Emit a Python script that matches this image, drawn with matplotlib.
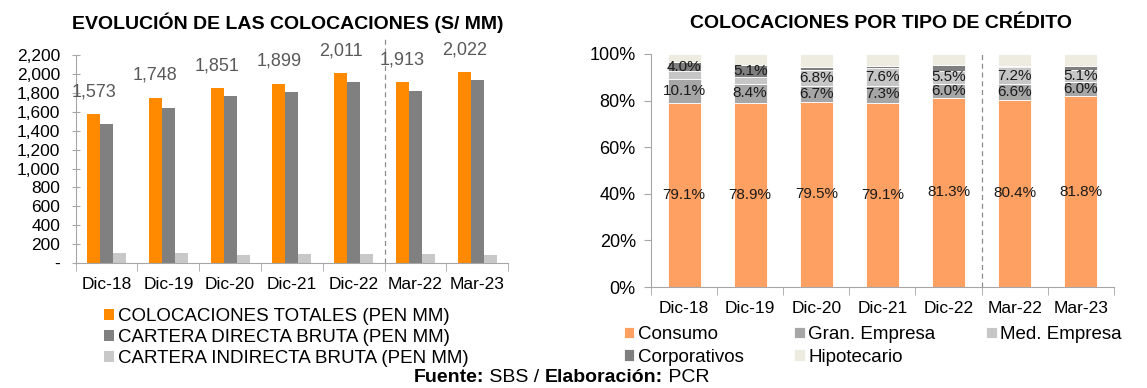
import matplotlib
matplotlib.use("Agg")
import matplotlib.pyplot as plt
import numpy as np

plt.rcParams['font.family'] = ['Liberation Sans', 'DejaVu Sans']

periodos = ['Dic-18', 'Dic-19', 'Dic-20', 'Dic-21', 'Dic-22', 'Mar-22', 'Mar-23']

# left chart (PEN MM)
totales = [1573, 1748, 1851, 1899, 2011, 1913, 2022]
directa = [1470, 1645, 1770, 1805, 1915, 1815, 1935]
indirecta = [103, 103, 81, 94, 96, 98, 87]

# right chart (% share)
consumo = [79.1, 78.9, 79.5, 79.1, 81.3, 80.4, 81.8]
gran_emp = [10.1, 8.4, 6.7, 7.3, 6.0, 6.6, 6.0]
med_emp = [3.4, 3.0, 6.8, 7.6, 5.5, 7.2, 5.1]
corporativos = [4.0, 5.1, 1.5, 1.0, 2.5, 0.8, 2.0]
hipotecario = [3.4, 4.6, 5.5, 5.0, 4.7, 5.0, 5.1]

c_orange = '#FF8A00'
c_dgray = '#808080'
c_lgray = '#C8C8C8'
spine_c = '#A6A6A6'

fig = plt.figure(figsize=(11.47, 3.88), dpi=100)

# ---------- left chart ----------
ax1 = fig.add_axes([0.066, 0.322, 0.377, 0.536])
x = np.arange(len(periodos))
w = 0.21
b1 = ax1.bar(x - w, totales, w, color=c_orange)
b2 = ax1.bar(x, directa, w, color=c_dgray)
b3 = ax1.bar(x + w, indirecta, w, color=c_lgray)
for xi, v in zip(x, totales):
    ax1.annotate(f'{v:,}', (xi - w, v), xytext=(0, 10), textcoords='offset points',
                 ha='center', va='bottom', fontsize=13, color='#595959')
ax1.set_xlim(-0.5, len(periodos) - 0.5)
ax1.set_ylim(0, 2200)
ax1.set_yticks(range(0, 2201, 200))
ax1.set_yticklabels(['-'] + [f'{v:,}' for v in range(200, 2201, 200)])
ax1.set_xticks(x)
ax1.set_xticklabels(periodos)
ax1.set_xticks(np.arange(-0.5, len(periodos)), minor=True)
ax1.tick_params(axis='x', which='major', length=0, pad=10, labelsize=12.5)
ax1.tick_params(axis='x', which='minor', length=6, color=spine_c)
ax1.tick_params(axis='y', length=6, direction='inout', color=spine_c, labelsize=12.5, pad=8)
for s in ['top', 'right']:
    ax1.spines[s].set_visible(False)
ax1.spines['left'].set_color(spine_c)
ax1.spines['bottom'].set_color(spine_c)
ax1.axvline(4.5, ymin=0, ymax=1.085, color='#8C8C8C', ls=(0, (4, 3)), lw=0.9, clip_on=False)
ax1.set_title('EVOLUCIÓN DE LAS COLOCACIONES (S/ MM)', fontsize=14, fontweight='bold',
              x=0.49, pad=19)
ax1.legend([b1, b2, b3],
           ['COLOCACIONES TOTALES (PEN MM)', 'CARTERA DIRECTA BRUTA (PEN MM)',
            'CARTERA INDIRECTA BRUTA (PEN MM)'],
           loc='upper left', bbox_to_anchor=(0.047, -0.18), frameon=False,
           fontsize=13.5, handlelength=0.55, handleheight=0.55, handletextpad=0.2,
           labelspacing=0.22, borderaxespad=0)

# ---------- right chart ----------
ax2 = fig.add_axes([0.5676, 0.260, 0.4034, 0.601])
cols = ['#FDA062', '#A6A6A6', '#C6C6C6', '#7F7F7F', '#EEECE1']
names = ['Consumo', 'Gran. Empresa', 'Med. Empresa', 'Corporativos', 'Hipotecario']
series = [consumo, gran_emp, med_emp, corporativos, hipotecario]
bottom = np.zeros(len(periodos))
handles = []
for vals, col, nm in zip(series, cols, names):
    vals = np.array(vals)
    h = ax2.bar(x, vals, 0.5, bottom=bottom, color=col, edgecolor='white', linewidth=0.6, label=nm)
    handles.append(h)
    for xi, b, v in zip(x, bottom, vals):
        show = nm in ('Consumo', 'Gran. Empresa') or \
            (nm == 'Med. Empresa' and v >= 5) or (nm == 'Corporativos' and v >= 4)
        if show:
            ax2.text(xi, b + v / 2, f'{v:.1f}%', ha='center', va='center', fontsize=11, color='#1a1a1a')
    bottom += vals
ax2.set_xlim(-0.5, len(periodos) - 0.5)
ax2.set_ylim(0, 100)
ax2.set_yticks(range(0, 101, 20))
ax2.set_yticklabels([f'{v}%' for v in range(0, 101, 20)])
ax2.set_xticks(x)
ax2.set_xticklabels(periodos)
ax2.set_xticks(np.arange(-0.5, len(periodos)), minor=True)
ax2.tick_params(axis='x', which='major', length=0, pad=10, labelsize=12.5)
ax2.tick_params(axis='x', which='minor', length=6, color=spine_c)
ax2.tick_params(axis='y', length=5, color=spine_c, labelsize=13, pad=6)
for s in ['top', 'right']:
    ax2.spines[s].set_visible(False)
ax2.spines['left'].set_color(spine_c)
ax2.spines['bottom'].set_color(spine_c)
ax2.axvline(4.5, color='#8C8C8C', ls=(0, (4, 3)), lw=0.9)
ax2.set_title('COLOCACIONES POR TIPO DE CRÉDITO', fontsize=14, fontweight='bold',
              x=0.497, pad=19)
order = [0, 3, 1, 4, 2]
ax2.legend([handles[i] for i in order], [names[i] for i in order], ncol=3,
           loc='upper left', bbox_to_anchor=(-0.075, -0.135), frameon=False,
           fontsize=13.5, handlelength=0.55, handleheight=0.55, handletextpad=0.2,
           labelspacing=0.3, columnspacing=2.7, borderaxespad=0)

# footer
t1 = fig.text(0.361, 0.016, 'Fuente:', fontsize=14, fontweight='bold')
t2 = plt.annotate(' SBS / ', xy=(1, 0), xycoords=t1, fontsize=14, va='bottom')
t3 = plt.annotate('Elaboración:', xy=(1, 0), xycoords=t2, fontsize=14, va='bottom', fontweight='bold')
plt.annotate(' PCR', xy=(1, 0), xycoords=t3, fontsize=14, va='bottom')

fig.savefig('out.png', dpi=100)
